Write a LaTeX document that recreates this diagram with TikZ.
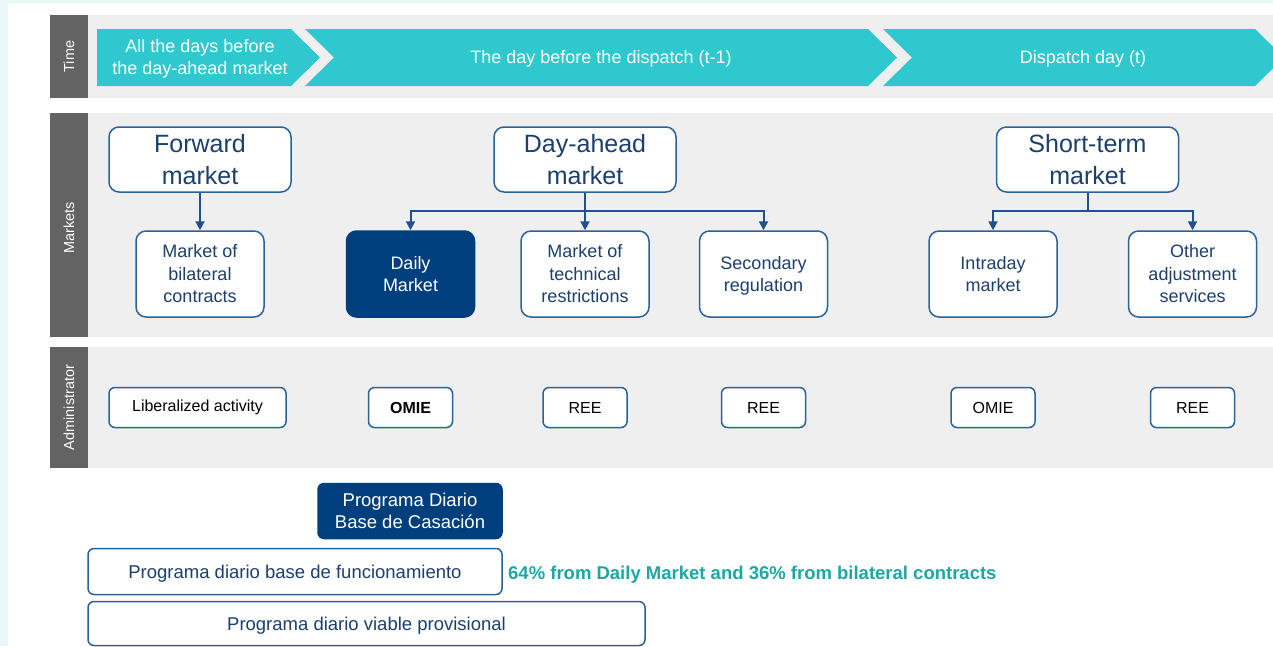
\documentclass[tikz,border=0pt]{standalone}
\usepackage{fontspec}
\setmainfont{Liberation Sans}
\usetikzlibrary{arrows.meta}

\definecolor{edgecyan}{HTML}{E9F7F8}
\definecolor{bandgray}{HTML}{EFEFEF}
\definecolor{labelgray}{HTML}{636363}
\definecolor{chev}{HTML}{2EC8CE}
\definecolor{boxline}{HTML}{2B6298}
\definecolor{arrowblue}{HTML}{1F5190}
\definecolor{boxtext}{HTML}{1C3F6E}
\definecolor{navy}{HTML}{003F7D}
\definecolor{tealtext}{HTML}{1BA8A3}

\tikzset{
  bandlabel/.style={rotate=90, text=white, font=\fontsize{14.5}{16}\selectfont},
  chevtext/.style={text=white, align=center, font=\fontsize{18}{22}\selectfont},
  bigbox/.style={draw=boxline, line width=1.5pt, rounded corners=10pt, fill=white,
    text=boxtext, align=center, inner sep=0pt, minimum width=182pt, minimum height=65pt,
    font=\fontsize{25}{32}\selectfont},
  subbox/.style={draw=boxline, line width=1.5pt, rounded corners=10pt, fill=white,
    text=boxtext, align=center, inner sep=0pt, minimum width=128pt, minimum height=86pt,
    font=\fontsize{18}{22.5}\selectfont},
  darkbox/.style={subbox, fill=navy, draw=navy, text=white},
  admbox/.style={draw=boxline, line width=1.5pt, rounded corners=6pt, fill=white,
    text=black, inner sep=0pt, minimum width=84pt, minimum height=40pt,
    font=\fontsize{16}{19}\selectfont},
  progbox/.style={draw=boxline, line width=1.5pt, rounded corners=6pt, fill=white,
    text=boxtext, align=center, inner sep=0pt, minimum height=46pt,
    font=\fontsize{18.5}{22}\selectfont},
  conn/.style={draw=arrowblue, line width=2pt, -{Triangle[width=9pt,length=9pt]}},
  trunk/.style={draw=arrowblue, line width=2pt},
}

\begin{document}
\begin{tikzpicture}[x=1pt, y=-1pt]
  \useasboundingbox (0,0) rectangle (1273,646);
  \clip (0,0) rectangle (1273,646);

  % page edges
  \fill[edgecyan] (0,0) rectangle (1273,3);
  \fill[edgecyan] (0,0) rectangle (8,646);

  % bands
  \fill[bandgray] (88,15) rectangle (1273,98);
  \fill[bandgray] (88,113) rectangle (1273,337);
  \fill[bandgray] (88,347) rectangle (1273,468);
  \fill[labelgray] (50,15) rectangle (88,98);
  \fill[labelgray] (50,113) rectangle (88,337);
  \fill[labelgray] (50,347) rectangle (88,468);
  \node[bandlabel] (lbltime) at (69,56.5) {Time};
  \node[bandlabel] (lblmkt) at (69,228) {Markets};
  \node[bandlabel] (lbladm) at (69,407.5) {Administrator};

  % time line chevrons
  \fill[chev] (97,29) -- (291,29) -- (320,57.5) -- (291,86) -- (97,86) -- cycle;
  \fill[chev] (305,29) -- (868,29) -- (897,57.5) -- (868,86) -- (305,86) -- (334,57.5) -- cycle;
  \fill[chev] (883,29) -- (1255,29) -- (1284,57.5) -- (1255,86) -- (883,86) -- (912,57.5) -- cycle;
  \node[chevtext] (t1) at (200,58.5) {All the days before\\the day-ahead market};
  \node[chevtext] (t2) at (601,58.5) {The day before the dispatch (t-1)};
  \node[chevtext] (t3) at (1083,58.5) {Dispatch day (t)};

  % markets
  \node[bigbox] (fwd) at (200,159.5) {Forward\\market};
  \node[bigbox] (da)  at (585,159.5) {Day-ahead\\market};
  \node[bigbox] (st)  at (1087.5,159.5) {Short-term\\market};

  \node[subbox]  (bil)   at (200,274)    {Market of\\bilateral\\contracts};
  \node[darkbox] (daily) at (410.5,274)  {Daily\\Market};
  \node[subbox]  (tech)  at (585,274)    {Market of\\technical\\restrictions};
  \node[subbox, text depth=0pt] (sec) at (763.5,274) {Secondary\\regulation};
  \node[subbox]  (intra) at (993,274)    {Intraday\\market};
  \node[subbox]  (other) at (1192.5,274) {Other\\adjustment\\services};

  \draw[conn] (fwd.south) -- (bil.north);

  \draw[trunk] (da.south) -- ++(0,18) coordinate (dab);
  \draw[conn] (dab) -| (daily.north);
  \draw[conn] (dab) -| (sec.north);
  \draw[conn] (da.south) -- (tech.north);

  \draw[trunk] (st.south) -- ++(0,18) coordinate (stb);
  \draw[conn] (stb) -| (intra.north);
  \draw[conn] (stb) -| (other.north);

  % administrators
  \node[admbox, minimum width=177pt] (alib) at (197.5,407.5) {Liberalized activity};
  \node[admbox] (aomie1) at (410.5,407.5) {\textbf{OMIE}};
  \node[admbox] (aree1)  at (585,407.5)   {REE};
  \node[admbox] (aree2)  at (763.5,407.5) {REE};
  \node[admbox] (aomie2) at (993,407.5)   {OMIE};
  \node[admbox] (aree3)  at (1192.5,407.5) {REE};

  % programmes
  \node[progbox, fill=navy, draw=navy, text=white, minimum width=184pt, minimum height=55pt]
    (pdbc) at (410,511) {Programa Diario\\Base de Casación};
  \node[progbox, text depth=0pt, minimum width=414pt, minimum height=46pt]
    (pdbf) at (295,571.5) {Programa diario base de funcionamiento};
  \node[progbox, text depth=0pt, minimum width=557pt, minimum height=44pt]
    (pdvp) at (366.5,623.5) {Programa diario viable provisional};
  \node[anchor=west, inner sep=0pt, text=tealtext, font=\fontsize{18.5}{22}\selectfont\bfseries]
    (share) at (508,575) {64\% from Daily Market and 36\% from bilateral contracts};
\end{tikzpicture}
\end{document}
